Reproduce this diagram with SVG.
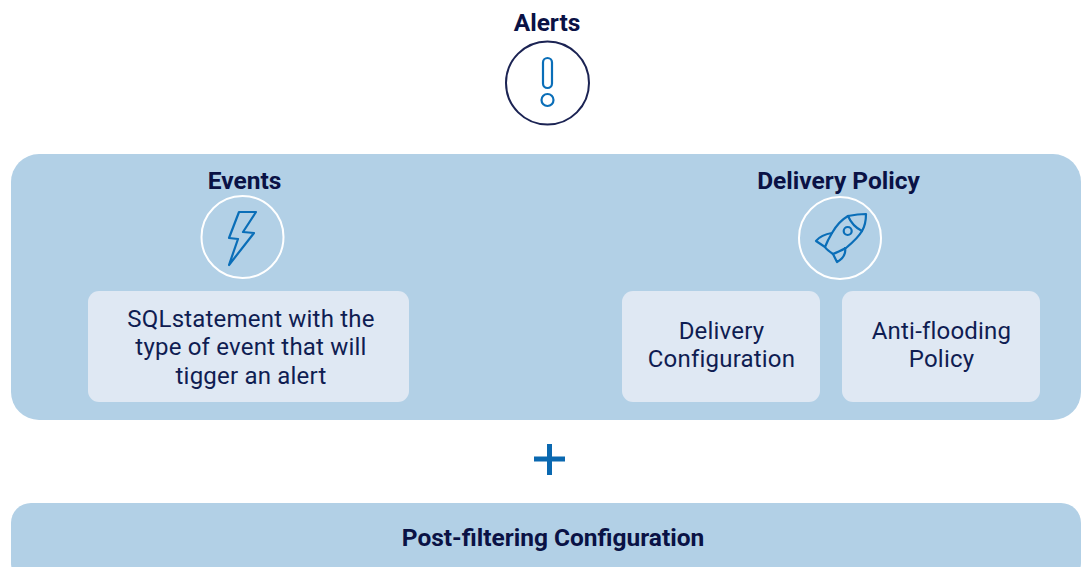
<svg xmlns="http://www.w3.org/2000/svg" width="1082" height="567" viewBox="0 0 1082 567">
<style>
text{font-family:Roboto,"Liberation Sans",sans-serif;text-anchor:middle}
.t{font-size:24.500px;font-weight:700;fill:#0a1245}
.b{font-size:24px;font-weight:400;fill:#0f1d52;letter-spacing:.2px}
.panel{fill:#b2d0e6}
.box{fill:#dfe8f3}
.ring{fill:none;stroke:#fff;stroke-width:2}
.ic{fill:none;stroke:#0a6eb8;stroke-width:2.200;stroke-linejoin:round;stroke-linecap:round}
</style>
<rect width="1082" height="567" fill="#fff"/>
<g id="alerts">
<text class="t" x="547" y="31">Alerts</text>
<circle cx="547.500" cy="83" r="41.500" fill="none" stroke="#1b2353" stroke-width="2"/>
<rect class="ic" x="543" y="58" width="9" height="30" rx="4.500"/>
<circle class="ic" cx="547.500" cy="100" r="6"/>
</g>
<g id="main-panel"><rect class="panel" x="11" y="154" width="1070" height="266" rx="28"/></g>
<g id="events">
<text class="t" x="244.500" y="189">Events</text>
<circle class="ring" cx="242.500" cy="237" r="41"/>
<path class="ic" d="M239 212H256L243 232L254 233L229 265L238 239L229 238Z"/>
</g>
<g id="delivery-policy">
<text class="t" x="838.500" y="189">Delivery Policy</text>
<circle class="ring" cx="840" cy="238" r="41"/>
<g class="ic">
<path d="M866 214C858 214 853 215 848 216C841 220 836 226 832 233C829 238 827 242 825 247C827 250 830 252 833 254C838 252 842 250 846 248C852 243 858 238 862 231C865 226 866 220 866 214Z"/>
<path d="M848 216C851 223 856 228 862 231"/>
<circle cx="847.700" cy="231" r="4"/>
<path d="M832 233C825 234 820 236 816 241L825 247"/>
<path d="M845 248C846 253 844 258 837 262L833 254"/>
</g>
</g>
<g id="sql-statement">
<rect class="box" x="88" y="291" width="321" height="111" rx="11"/>
<text class="b" x="251" y="327">SQLstatement with the</text>
<text class="b" x="251" y="355">type of event that will</text>
<text class="b" x="251" y="384">tigger an alert</text>
</g>
<g id="delivery-configuration">
<rect class="box" x="622" y="291" width="198" height="111" rx="11"/>
<text class="b" x="721.500" y="339">Delivery</text>
<text class="b" x="721.500" y="367">Configuration</text>
</g>
<g id="anti-flooding">
<rect class="box" x="842" y="291" width="198" height="111" rx="11"/>
<text class="b" x="941.500" y="339">Anti-flooding</text>
<text class="b" x="941.500" y="367">Policy</text>
</g>
<g id="connectors">
<path d="M534 459H565M549.500 444V475" fill="none" stroke="#0a68b0" stroke-width="5"/>
</g>
<g id="post-filtering">
<rect class="panel" x="11" y="503" width="1070" height="80" rx="20"/>
<text class="t" x="553" y="546">Post-filtering Configuration</text>
</g>
</svg>
